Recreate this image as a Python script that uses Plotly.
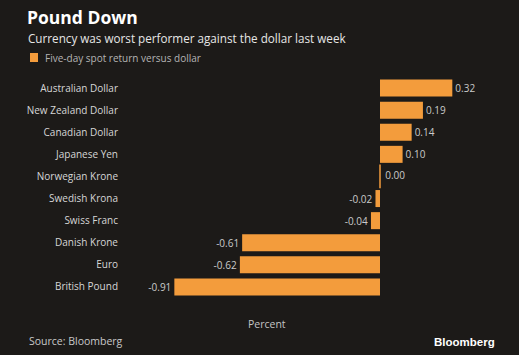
import plotly.graph_objects as go

categories = ["Australian Dollar", "New Zealand Dollar", "Canadian Dollar", "Japanese Yen",
              "Norwegian Krone", "Swedish Krona", "Swiss Franc", "Danish Krone", "Euro",
              "British Pound"]
values = [0.32, 0.19, 0.14, 0.10, 0.00, -0.02, -0.04, -0.61, -0.62, -0.91]
series_name = "Five-day spot return versus dollar"

BG = "#1c1a18"
ORANGE = "#f39c3c"
FONT = "Open Sans"

W, H = 519, 355
L, R, T, B = 125, 19, 77, 57
pw, ph = W - L - R, H - T - B

def px(x):
    return (x - L) / pw

def py(y):
    return (H - B - y) / ph

fig = go.Figure()
fig.add_trace(go.Bar(
    x=values, y=categories, orientation="h", name=series_name,
    marker=dict(color=ORANGE, line=dict(width=0)),
    text=[f"{v:.2f}" if v != 0 else "" for v in values],
    textposition="outside", cliponaxis=False,
    textfont=dict(color="#cacaca", size=10, family=FONT),
    showlegend=False,
))

zero_cats = [c for c, v in zip(categories, values) if v == 0]
zero_vals = [v for v in values if v == 0]
fig.add_trace(go.Scatter(
    x=zero_vals, y=zero_cats, mode="markers",
    marker=dict(symbol="line-ns", size=17, line=dict(color=ORANGE, width=1.5)),
    showlegend=False, hoverinfo="skip", cliponaxis=False,
))
fig.add_trace(go.Scatter(
    x=zero_vals, y=zero_cats, mode="text",
    text=[f"  {v:.2f}" for v in zero_vals], textposition="middle right",
    textfont=dict(color="#cacaca", size=10, family=FONT),
    showlegend=False, hoverinfo="skip", cliponaxis=False,
))

fig.update_layout(
    width=W, height=H,
    margin=dict(l=L, r=R, t=T, b=B, autoexpand=False),
    paper_bgcolor=BG, plot_bgcolor=BG,
    font=dict(family=FONT, color="#d6d6d6"),
    bargap=0.23,
    title=dict(text="<b>Pound Down</b>", xref="container", yref="container",
               x=27 / W, y=1 - 18 / H, xanchor="left", yanchor="middle",
               font=dict(size=17.5, color="#ffffff", family=FONT)),
    xaxis=dict(range=[-(380 - L) / 226, (W - R - 380) / 226], visible=False,
               showgrid=False, zeroline=False, fixedrange=True),
    yaxis=dict(autorange="reversed", showgrid=False, zeroline=False, showline=False,
               ticks="", tickfont=dict(size=10, color="#d6d6d6", family=FONT),
               ticklabelstandoff=6),
    showlegend=False,
)

# legend swatch + label
fig.add_shape(type="rect", xref="paper", yref="paper", x0=px(30), x1=px(38),
              y0=py(62), y1=py(53), fillcolor=ORANGE, line=dict(width=0))
fig.add_annotation(text=series_name, xref="paper", yref="paper", x=px(43), y=py(57.5),
                   xanchor="left", yanchor="middle", showarrow=False,
                   font=dict(size=10, color="#b4b4b4", family=FONT))

fig.add_annotation(text="Currency was worst performer against the dollar last week",
                   xref="paper", yref="paper", x=px(26), y=py(38), xanchor="left",
                   yanchor="middle", showarrow=False,
                   font=dict(size=11.7, color="#e6e6e6", family=FONT))
fig.add_annotation(text="Percent", xref="paper", yref="paper", x=px(267), y=py(324),
                   xanchor="center", yanchor="middle", showarrow=False,
                   font=dict(size=10.5, color="#c4c4c4", family=FONT))
fig.add_annotation(text="Source: Bloomberg", xref="paper", yref="paper", x=px(27),
                   y=py(341), xanchor="left", yanchor="middle", showarrow=False,
                   font=dict(size=10.5, color="#c8c8c8", family=FONT))
fig.add_annotation(text="<b>Bloomberg</b>", xref="paper", yref="paper", x=px(497),
                   y=py(342), xanchor="right", yanchor="middle", showarrow=False,
                   font=dict(size=11.5, color="#ffffff", family="Liberation Sans"))

fig.write_html("out.html", config={"displayModeBar": False},
               post_script="document.body.style.margin='0px';")
